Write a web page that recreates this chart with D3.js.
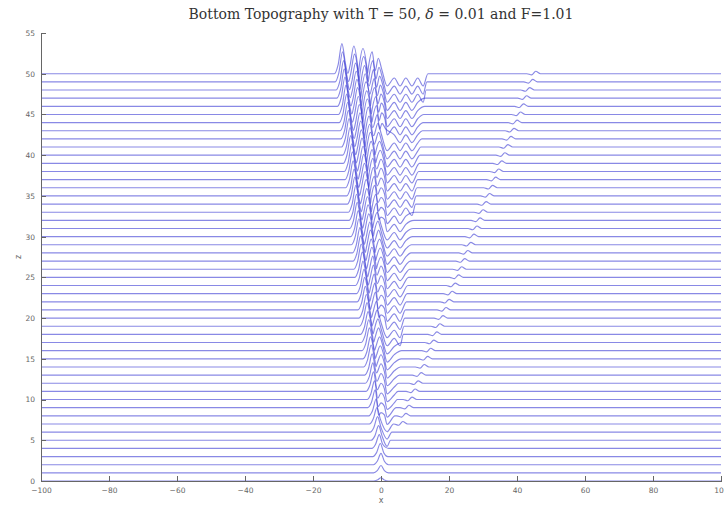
<!DOCTYPE html>
<meta charset="utf-8">
<style>
    body { margin: 0; background: #fff; }
    text { font-family: "DejaVu Sans", sans-serif; }
    .axis path, .axis line { stroke: #666; shape-rendering: crispEdges; }
    .axis text { fill: #666; font-size: 7.5px; }
    .profiles path {
        fill: none;
        stroke: #3434d2;
        stroke-width: 1.15px;
        stroke-opacity: 0.58;
    }
    .title { font-family: "DejaVu Serif", serif; font-size: 14px; fill: #333; }
    .label { font-size: 8px; fill: #666; }
</style>
<svg id="chart" width="724" height="506"></svg>
<script src="https://d3js.org/d3.v7.min.js"></script>
<script>

    // time of each profile = its vertical offset
    var times = [0,1,2,3,4,5,6,7,8,9,10,11,12,13,14,15,16,17,18,19,20,21,22,23,24,25,
        26,27,28,29,30,31,32,33,34,35,36,37,38,39,40,41,42,43,44,45,46,47,48,49,50];

    // upstream soliton crests [x, height] on each profile
    var upstream = [
        [[0,0.4]],
        [[0,0.9]],
        [[0,1.4]],
        [[-0.2,1.6]],
        [[-0.5,1.7]],
        [[-0.7,1.8]],
        [[-1.0,1.9]],
        [[-1.2,2.0]],
        [[-1.4,2.1],[0,0.4]],
        [[-1.7,2.2],[0,0.6]],
        [[-1.9,2.3],[0,0.8]],
        [[-2.2,2.4],[0,1.0]],
        [[-2.4,2.5],[0,1.2]],
        [[-2.6,2.6],[0,1.4]],
        [[-2.9,2.7],[0,1.5]],
        [[-3.1,2.7],[-0.2,1.6]],
        [[-3.4,2.8],[-0.4,1.7]],
        [[-3.6,2.8],[-0.7,1.8]],
        [[-3.8,2.8],[-0.9,1.9]],
        [[-4.1,2.9],[-1.1,2.0]],
        [[-4.3,2.9],[-1.3,2.1],[0,0.4]],
        [[-4.6,2.9],[-1.6,2.2],[0,0.6]],
        [[-4.8,3.0],[-1.8,2.3],[0,0.8]],
        [[-5.0,3.0],[-2.0,2.4],[0,1.0]],
        [[-5.3,3.0],[-2.2,2.5],[0,1.2]],
        [[-5.5,3.1],[-2.4,2.6],[0,1.4]],
        [[-5.8,3.1],[-2.7,2.7],[0,1.5]],
        [[-6.0,3.1],[-2.9,2.7],[-0.2,1.6]],
        [[-6.2,3.1],[-3.1,2.8],[-0.4,1.7]],
        [[-6.5,3.2],[-3.3,2.8],[-0.7,1.8]],
        [[-6.7,3.2],[-3.6,2.8],[-0.9,1.9]],
        [[-7.0,3.2],[-3.8,2.9],[-1.1,2.0]],
        [[-7.2,3.2],[-4.0,2.9],[-1.3,2.1],[0,0.4]],
        [[-7.4,3.3],[-4.2,2.9],[-1.5,2.2],[0,0.6]],
        [[-7.7,3.3],[-4.4,3.0],[-1.8,2.3],[0,0.8]],
        [[-7.9,3.3],[-4.7,3.0],[-2.0,2.4],[0,1.0]],
        [[-8.2,3.3],[-4.9,3.0],[-2.2,2.5],[0,1.2]],
        [[-8.4,3.4],[-5.1,3.1],[-2.4,2.6],[0,1.4]],
        [[-8.6,3.4],[-5.3,3.1],[-2.6,2.7],[0,1.5]],
        [[-8.9,3.4],[-5.6,3.1],[-2.9,2.7],[-0.2,1.6]],
        [[-9.1,3.4],[-5.8,3.1],[-3.1,2.8],[-0.4,1.7]],
        [[-9.4,3.5],[-6.0,3.2],[-3.3,2.8],[-0.7,1.8]],
        [[-9.6,3.5],[-6.2,3.2],[-3.5,2.8],[-0.9,1.9]],
        [[-9.8,3.5],[-6.4,3.2],[-3.7,2.9],[-1.1,2.0],[0.3,0.9]],
        [[-10.1,3.5],[-6.7,3.2],[-4.0,2.9],[-1.3,2.1],[0.2,1.2]],
        [[-10.3,3.6],[-6.9,3.3],[-4.2,2.9],[-1.5,2.2],[0.1,1.4]],
        [[-10.6,3.6],[-7.1,3.3],[-4.4,3.0],[-1.8,2.3],[0,1.5]],
        [[-10.8,3.6],[-7.3,3.3],[-4.6,3.0],[-2.0,2.4],[-0.2,1.6]],
        [[-11.0,3.6],[-7.5,3.3],[-4.8,3.0],[-2.2,2.5],[-0.4,1.7]],
        [[-11.3,3.7],[-7.8,3.4],[-5.1,3.1],[-2.4,2.6],[-0.6,1.8]],
        [[-11.5,3.7],[-8.0,3.4],[-5.3,3.1],[-2.6,2.7],[-0.8,1.9]]
    ];

    // downstream depression: where it ends and how deep its troughs are
    var frontX = [0.5,1.0,1.4,1.9,2.3,2.8,3.2,3.7,4.1,4.5,4.8,5.0,5.2,5.4,5.7,5.9,6.1,6.3,
        6.6,6.8,7.0,7.2,7.5,7.7,7.9,8.1,8.4,8.6,8.8,9.0,9.3,9.5,9.7,9.9,10.2,10.4,10.6,
        10.8,11.1,11.3,11.5,11.7,12.0,12.2,12.4,12.6,12.9,13.1,13.3,13.5,13.8];
    var depth = [0,0.15,0.3,0.45,0.6,0.75,0.85,0.95,1.05,1.15,1.2,1.25,1.3,1.3,1.35,1.35,
        1.4,1.4,1.4,1.4,1.4,1.4,1.4,1.4,1.4,1.4,1.4,1.4,1.4,1.4,1.4,1.4,1.4,1.4,1.4,1.4,
        1.4,1.4,1.4,1.45,1.45,1.45,1.45,1.45,1.5,1.5,1.5,1.5,1.5,1.5,1.5];
    // trough / crest positions of the downstream wave train (read at T = 50)
    var waveX = [1.8, 3.9, 5.6, 7.3, 9.1, 10.8, 12.4];
    var waveShape = [1, 0.35, 1, 0.35, 1, 0.35, 1];

    // small hump running away downstream
    var bumpX = [null,null,null,null,3.6,4.6,5.5,6.4,7.3,8.2,9.1,10.0,10.9,11.8,12.7,13.7,
        14.6,15.5,16.4,17.3,18.2,19.1,20.0,20.9,21.8,22.8,23.7,24.6,25.5,26.4,27.3,28.2,
        29.1,30.0,30.9,31.9,32.8,33.7,34.6,35.5,36.4,37.3,38.2,39.1,40.0,41.0,41.9,42.8,
        43.7,44.6,45.5];
    var bumpHeight = 0.3;

    var xTicks = [-100,-80,-60,-40,-20,0,20,40,60,80,100];
    var yTicks = [0,5,10,15,20,25,30,35,40,45,50,55];

    var svg = d3.select("#chart"),
        plotLeft = 41, plotRight = 721, plotTop = 33, plotBottom = 481;

    var x = d3.scaleLinear().domain([-100, 100]).range([plotLeft, plotRight]);
    var y = d3.scaleLinear().domain([0, 55]).range([plotBottom, plotTop]);

    function profile(i) {
        var pts = [[-100, 0]];
        var crests = upstream[i].slice().sort(function(a, b) { return a[0] - b[0]; });
        var kept = [];
        crests.forEach(function(c) {
            var last = kept[kept.length - 1];
            if (last && c[0] - last[0] < 1) {
                if (c[1] > last[1]) kept[kept.length - 1] = c;
            } else kept.push(c);
        });
        kept.forEach(function(c, k) {
            var p = kept[k - 1];
            if (!p) {
                pts.push([c[0] - 2.2, 0]);
                pts.push([c[0] - 1.1, 0.3 * c[1]]);
            } else if (c[0] - p[0] > 2.6) {
                pts.push([p[0] + 1.1, 0.3 * p[1]]);
                pts.push([(p[0] + c[0]) / 2, 0.05]);
                pts.push([c[0] - 1.1, 0.3 * c[1]]);
            } else {
                pts.push([(p[0] + c[0]) / 2, 0.2 * Math.min(p[1], c[1])]);
            }
            pts.push(c);
        });
        var last = kept[kept.length - 1];
        var xr = last[0];
        pts.push([xr + 1.0, 0.3 * last[1]]);
        var fx = frontX[i], end = Math.max(fx, xr + 2.2);
        waveX.forEach(function(wx, k) {
            if (wx > xr + 1.5 && wx < fx - 0.8) pts.push([wx, -depth[i] * waveShape[k]]);
        });
        pts.push([end, 0]);
        var b = bumpX[i];
        if (b !== null && b - end > 2.5) {
            pts.push([b - 2.6, 0]);
            pts.push([b - 1.2, -0.15]);
            pts.push([b, bumpHeight]);
            pts.push([b + 1.4, 0]);
            pts.push([b + 2.8, 0]);
        }
        pts.push([100, 0]);
        return pts;
    }

    svg.append("g")
        .attr("class", "profiles")
        .selectAll("path")
        .data(times)
        .enter().append("path")
        .attr("d", function(t, i) {
            return d3.line()
                .x(function(d) { return x(d[0]); })
                .y(function(d) { return y(t + d[1]); })
                .curve(d3.curveMonotoneX)(profile(i));
        });

    svg.append("g")
        .attr("class", "axis")
        .attr("transform", "translate(0," + plotBottom + ")")
        .call(d3.axisBottom(x).tickValues(xTicks).tickSizeInner(-5).tickSizeOuter(0).tickPadding(7));

    svg.append("g")
        .attr("class", "axis")
        .attr("transform", "translate(" + plotLeft + ",0)")
        .call(d3.axisLeft(y).tickValues(yTicks).tickSizeInner(-5).tickSizeOuter(0).tickPadding(6));

    var title = svg.append("text")
        .attr("class", "title")
        .attr("x", (plotLeft + plotRight) / 2)
        .attr("y", 19)
        .attr("text-anchor", "middle");
    title.append("tspan").text("Bottom Topography with T = 50, ");
    title.append("tspan").style("font-style", "italic").text("δ");
    title.append("tspan").text(" = 0.01 and F=1.01");

    svg.append("text")
        .attr("class", "label")
        .attr("x", (plotLeft + plotRight) / 2)
        .attr("y", 503)
        .attr("text-anchor", "middle")
        .text("x");

    svg.append("text")
        .attr("class", "label")
        .attr("transform", "translate(21," + y(27.5) + ") rotate(-90)")
        .attr("text-anchor", "middle")
        .text("z");

</script>
